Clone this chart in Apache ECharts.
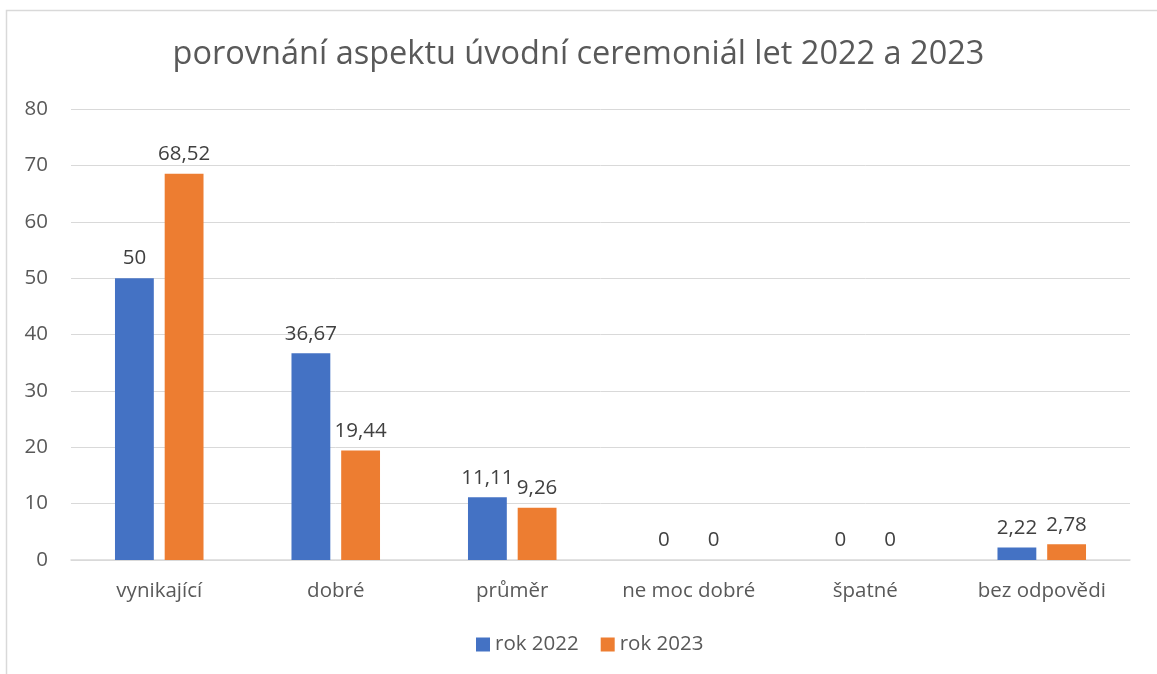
<!DOCTYPE html>
<html>
<head>
<meta charset="utf-8">
<script src="https://cdn.jsdelivr.net/npm/echarts@6/dist/echarts.min.js"></script>
<style>
	html, body { margin: 0; padding: 0; background: #fff; }
	#chart { width: 1157px; height: 674px; }
</style>
</head>
<body>
<div id="chart"></div>
<script>
// data
const categories = ['vynikající', 'dobré', 'průměr', 'ne moc dobré', 'špatné', 'bez odpovědi']
const rok2022 = [50, 36.67, 11.11, 0, 0, 2.22]
const rok2023 = [68.52, 19.44, 9.26, 0, 0, 2.78]
const yTicks = { min: 0, max: 80, interval: 10 }

const font = '"Open Sans", "Noto Sans", sans-serif'
const fmt = p => String(p.value).replace('.', ',')

let myChart = echarts.init(document.getElementById('chart'))
let option = {
	backgroundColor: '#fff',
	textStyle: { fontFamily: font },
	title: {
		text: 'porovnání aspektu úvodní ceremoniál let 2022 a 2023',
		left: 'center',
		top: 33,
		textStyle: { fontFamily: font, fontSize: 32.5, fontWeight: 'normal', color: '#595959' }
	},
	graphic: [{
		type: 'rect',
		shape: { x: 6.5, y: 10.5, width: 1200, height: 700 },
		style: { fill: 'none', stroke: '#d9d9d9', lineWidth: 1.5 },
		silent: true
	}],
	legend: {
		bottom: 14,
		left: 471,
		icon: 'rect',
		itemWidth: 14,
		itemHeight: 14,
		itemGap: 22,
		itemTextGap: 5,
		textStyle: { fontFamily: font, fontSize: 20.5, color: '#595959' },
		data: ['rok 2022', 'rok 2023']
	},
	grid: { left: 71, right: 27, top: 109, bottom: 114, containLabel: false },
	xAxis: {
		type: 'category',
		data: categories,
		axisLine: { lineStyle: { color: '#d9d9d9', width: 1.5 } },
		axisTick: { show: false },
		axisLabel: { fontFamily: font, fontSize: 20.5, color: '#595959', margin: 21 }
	},
	yAxis: {
		type: 'value',
		min: yTicks.min,
		max: yTicks.max,
		interval: yTicks.interval,
		axisLine: { show: false },
		axisTick: { show: false },
		splitLine: { lineStyle: { color: '#d9d9d9', width: 1 } },
		axisLabel: { fontFamily: font, fontSize: 20.5, color: '#595959', margin: 23 }
	},
	series: [
		{
			name: 'rok 2022',
			type: 'bar',
			data: rok2022,
			barWidth: '22%',
			barGap: '28%',
			itemStyle: { color: '#4472c4' },
			label: { show: true, position: 'top', distance: 9, formatter: fmt, fontFamily: font, fontSize: 20.5, color: '#404040' }
		},
		{
			name: 'rok 2023',
			type: 'bar',
			data: rok2023,
			barWidth: '22%',
			itemStyle: { color: '#ed7d31' },
			label: { show: true, position: 'top', distance: 9, formatter: fmt, fontFamily: font, fontSize: 20.5, color: '#404040' }
		}
	]
}
myChart.setOption(option)
</script>
</body>
</html>
